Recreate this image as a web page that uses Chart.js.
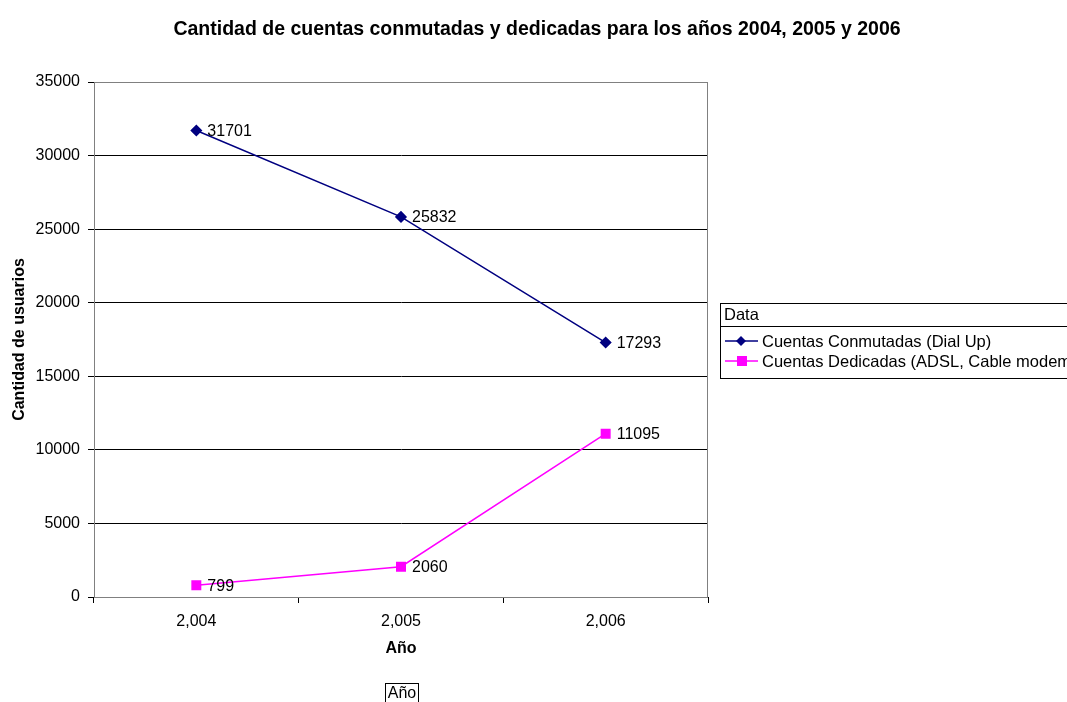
<!DOCTYPE html>
<html>
<head>
<meta charset="utf-8">
<script src="https://cdn.jsdelivr.net/npm/chart.js@4.4.1/dist/chart.umd.min.js"></script>
<style>
  html, body { margin: 0; padding: 0; background: #fff; }
  #wrap { width: 1067px; height: 702px; }
</style>
</head>
<body>
<div id="wrap"><canvas id="chartCuentas" width="1067" height="702"></canvas></div>
<script>
// datos
var anios = ['2,004', '2,005', '2,006'];
var conmutadas = [31701, 25832, 17293];
var dedicadas = [799, 2060, 11095];
var yTicks = [0, 5000, 10000, 15000, 20000, 25000, 30000, 35000];

var FONT = 'Arial, "Liberation Sans", sans-serif';

// marco del area, etiquetas de datos, leyenda y caja "Año"
var extras = {
    id: 'extras',
    beforeDatasetsDraw: function (chart) {
        var ctx = chart.ctx, a = chart.chartArea;
        ctx.save();
        ctx.strokeStyle = '#808080';
        ctx.lineWidth = 1;
        ctx.strokeRect(a.left + 0.5, a.top + 0.5, a.right - a.left - 1, a.bottom - a.top);
        ctx.restore();
    },
    afterDraw: function (chart) {
        var ctx = chart.ctx;
        ctx.save();

        // titulo
        ctx.fillStyle = '#000';
        ctx.font = 'bold 19.5px ' + FONT;
        ctx.textAlign = 'center';
        ctx.textBaseline = 'middle';
        ctx.fillText('Cantidad de cuentas conmutadas y dedicadas para los años 2004, 2005 y 2006', 537, 30);

        // etiquetas de valores
        ctx.font = '16px ' + FONT;
        ctx.textAlign = 'left';
        chart.data.datasets.forEach(function (ds, i) {
            chart.getDatasetMeta(i).data.forEach(function (pt, j) {
                ctx.fillText(String(ds.data[j]), pt.x + 11, pt.y + 1);
            });
        });

        // leyenda
        var lx = 720, ly = 303, lw = 360, lh = 75;
        ctx.font = '16.5px ' + FONT;
        ctx.strokeStyle = '#000';
        ctx.lineWidth = 1;
        ctx.strokeRect(lx + 0.5, ly + 0.5, lw, lh);
        ctx.beginPath();
        ctx.moveTo(lx, ly + 23.5);
        ctx.lineTo(lx + lw, ly + 23.5);
        ctx.stroke();
        ctx.fillText('Data', lx + 4, ly + 12);
        chart.data.datasets.forEach(function (ds, i) {
            var y = ly + 38 + i * 20;
            ctx.strokeStyle = ds.borderColor;
            ctx.lineWidth = 1.5;
            ctx.beginPath();
            ctx.moveTo(lx + 5, y);
            ctx.lineTo(lx + 38, y);
            ctx.stroke();
            ctx.fillStyle = ds.borderColor;
            ctx.beginPath();
            if (ds.pointStyle === 'rectRot') {
                ctx.moveTo(lx + 21, y - 5);
                ctx.lineTo(lx + 26, y);
                ctx.lineTo(lx + 21, y + 5);
                ctx.lineTo(lx + 16, y);
                ctx.closePath();
            } else {
                ctx.rect(lx + 17, y - 5, 10, 10);
            }
            ctx.fill();
            ctx.fillStyle = '#000';
            ctx.fillText(ds.label, lx + 42, y + 1);
        });

        // caja "Año" abajo
        ctx.font = '16px ' + FONT;
        ctx.strokeStyle = '#000';
        ctx.lineWidth = 1;
        ctx.strokeRect(385.5, 683.5, 33, 20);
        ctx.textAlign = 'center';
        ctx.fillText('Año', 402, 694);
        ctx.restore();
    }
};

var ctx = document.getElementById('chartCuentas');
var myChart = new Chart(ctx, {
    type: 'line',
    data: {
        labels: anios,
        datasets: [{
                label: 'Cuentas Conmutadas (Dial Up)',
                data: conmutadas,
                borderColor: '#000080',
                backgroundColor: '#000080',
                borderWidth: 1.5,
                pointStyle: 'rectRot',
                pointRadius: 5,
                pointHoverRadius: 5
            },
            {
                label: 'Cuentas Dedicadas (ADSL, Cable modem)',
                data: dedicadas,
                borderColor: '#FF00FF',
                backgroundColor: '#FF00FF',
                borderWidth: 1.5,
                pointStyle: 'rect',
                pointRadius: 6,
                pointHoverRadius: 6
            }
        ]
    },
    plugins: [extras],
    options: {
        responsive: false,
        animation: false,
        events: [],
        layout: {
            padding: { left: 0, right: 359, top: 82, bottom: 44 }
        },
        plugins: {
            legend: { display: false },
            title: { display: false },
            tooltip: { enabled: false }
        },
        scales: {
            x: {
                offset: true,
                grid: {
                    offset: true,
                    drawOnChartArea: false,
                    drawTicks: true,
                    tickLength: 6,
                    color: '#000'
                },
                border: { color: '#000' },
                ticks: {
                    color: '#000',
                    font: { family: FONT, size: 16 },
                    padding: 9
                },
                title: {
                    display: true,
                    text: 'Año',
                    color: '#000',
                    font: { family: FONT, size: 16, weight: 'bold' },
                    padding: { top: 8, bottom: 0 }
                },
                afterFit: function (scale) { scale.height = 61; }
            },
            y: {
                min: 0,
                max: 35000,
                afterBuildTicks: function (scale) {
                    scale.ticks = yTicks.map(function (v) { return { value: v }; });
                },
                grid: {
                    color: '#000',
                    tickLength: 6,
                    lineWidth: 1
                },
                border: { color: '#000' },
                ticks: {
                    color: '#000',
                    font: { family: FONT, size: 16 },
                    padding: 8,
                    callback: function (v) { return String(v); }
                },
                title: {
                    display: true,
                    text: 'Cantidad de usuarios',
                    color: '#000',
                    font: { family: FONT, size: 16, weight: 'bold' },
                    padding: { top: 10, bottom: 0 }
                },
                afterFit: function (scale) { scale.width = 94; }
            }
        }
    }
});
</script>
</body>
</html>
